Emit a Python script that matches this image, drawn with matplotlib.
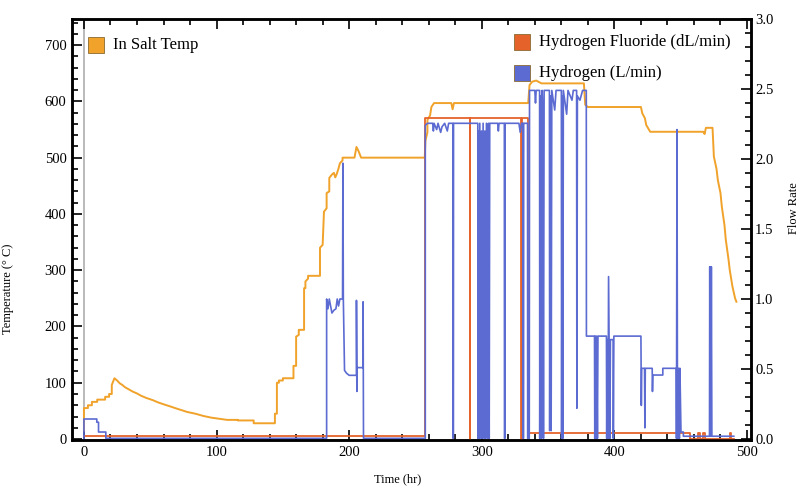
import numpy as np
import matplotlib.pyplot as plt
from matplotlib.patches import Rectangle

# In salt temperature (hr, deg C)
temp_pts = [
    (0, 15), (0, 55), (3, 55), (3, 60), (6, 60), (6, 66), (10, 66), (10, 70),
    (16, 70), (16, 75), (19, 75), (19, 80), (21, 80), (21, 96), (23, 108),
    (25, 104), (27, 99), (29, 96), (31, 92), (34, 88), (37, 84), (40, 81),
    (43, 77), (47, 73), (52, 69), (56, 65), (61, 61), (65, 58), (70, 54),
    (74, 51), (78, 48), (84, 45), (90, 41), (96, 38), (102, 36), (108, 34),
    (116, 34), (116, 33), (128, 33), (128, 28), (144, 28), (144, 45),
    (145.5, 45), (145.5, 100), (147, 100), (147, 104), (150, 104), (150, 108),
    (158, 108), (158, 130), (160, 130), (160, 182), (162, 185), (162, 194),
    (166, 194), (166, 268), (167, 268), (167, 280), (169, 285), (169, 290),
    (178, 290), (178, 340), (180, 345), (181, 404), (183, 410), (183, 437),
    (185, 440), (185, 464), (187, 470), (188.5, 473), (189.5, 465),
    (190.5, 470), (192, 481), (193, 490), (195, 495), (195, 500), (204, 500),
    (205.5, 519), (207, 512), (209, 500), (257, 500), (257.5, 530),
    (259, 545), (259, 567), (261, 575), (262, 590), (264, 597), (277, 597),
    (278, 586), (279, 597), (335, 597), (336, 629), (338, 635), (341, 637),
    (345, 632), (377, 632), (378, 594), (380, 590), (420, 590), (421, 579),
    (423, 570), (424, 558), (426, 550), (427, 546), (467, 546), (468, 542),
    (469, 553), (474, 553), (475, 502), (477, 480), (478, 460), (480, 437),
    (481, 413), (483, 380), (484, 354), (486, 320), (487, 300), (489, 271),
    (491, 250), (492, 244),
]

# Hydrogen fluoride flow (hr, dL/min)
hf_pts = [
    (0, 0.02), (257.4, 0.02), (257.4, 2.29), (290.8, 2.29), (290.8, 0.0),
    (291.2, 0.0), (291.2, 2.29), (329.8, 2.29), (329.8, 0.0), (330.2, 0.0),
    (330.2, 2.29), (335, 2.29), (335, 0.045), (457, 0.045), (457, 0.0),
    (463, 0.0), (463, 0.045), (464.5, 0.045), (464.5, 0.0), (467, 0.0),
    (467, 0.045), (468, 0.045), (468, 0.0), (487, 0.0), (487, 0.045),
    (488, 0.045), (488, 0.0), (490, 0.0),
]

# Hydrogen flow (hr, L/min)
h2_pts = [
    (0, 0.0), (0, 0.143), (9.7, 0.143), (9.7, 0.12), (11, 0.12), (11, 0.05),
    (16.5, 0.05), (16.5, 0.005), (183, 0.005), (183, 1.0), (184, 0.93),
    (185, 1.0), (186, 0.95), (187, 0.9), (188.5, 0.92), (190, 0.93),
    (191, 1.0), (192, 0.95), (193, 1.0), (195, 1.0), (195.3, 1.97),
    (195.6, 1.0), (196.5, 0.49), (198, 0.47), (200, 0.455), (205.5, 0.455),
    (205.5, 0.99), (205.8, 0.34), (206, 0.51), (210.5, 0.51), (210.5, 0.98),
    (210.8, 0.005), (257.4, 0.005), (257.4, 2.24), (259, 2.255),
    (263, 2.255), (263.5, 2.2), (264, 2.255), (266, 2.21), (267, 2.255),
    (269, 2.19), (270, 2.23), (272, 2.255), (274, 2.2), (275, 2.255),
    (278.2, 2.255), (278.3, 0.005), (278.6, 0.005), (278.7, 2.255),
    (297, 2.255), (297.1, 0.005), (297.5, 2.2), (298, 0.005), (298.5, 2.255),
    (299.3, 0.005), (299.8, 2.2), (300.5, 0.005), (301, 2.255),
    (301.8, 0.005), (302.3, 2.2), (303, 0.005), (303.5, 2.255),
    (304.5, 0.005), (305, 2.255), (305.6, 0.005), (306, 2.255), (312, 2.255),
    (312.5, 2.2), (313, 2.255), (317, 2.255), (317.1, 0.005), (317.5, 0.005),
    (317.6, 2.255), (328, 2.255), (329, 2.19), (330, 2.255), (331, 2.255),
    (331.1, 0.005), (331.5, 0.005), (331.6, 2.255), (334.5, 2.255),
    (334.6, 0.005), (335.8, 0.005), (336, 2.49), (340, 2.49), (340.5, 2.4),
    (341, 2.49), (343.6, 2.49), (343.7, 0.005), (344.2, 2.45), (345, 0.005),
    (345.5, 2.49), (346, 2.32), (346.5, 0.005), (347, 2.49), (351, 2.49),
    (351.2, 0.06), (351.7, 2.45), (352.3, 0.06), (352.8, 2.49), (355, 2.35),
    (356, 2.49), (360, 2.49), (360.2, 0.005), (360.6, 2.45), (361.1, 0.005),
    (361.5, 2.49), (364, 2.32), (365, 2.49), (368, 2.42), (369, 2.49),
    (371.5, 2.49), (371.7, 0.22), (372.1, 2.45), (374, 2.42), (376, 2.49),
    (378.8, 2.49), (378.9, 0.735), (385, 0.735), (385.2, 0.005),
    (385.6, 0.735), (386.2, 0.005), (386.6, 0.735), (387.2, 0.005),
    (387.6, 0.735), (394, 0.735), (394.2, 0.005), (394.6, 0.71),
    (395.2, 0.005), (395.6, 1.16), (396, 0.71), (396.6, 0.005), (397, 0.71),
    (399, 0.71), (399.2, 0.005), (399.6, 0.735), (420, 0.735), (420.3, 0.24),
    (420.6, 0.505), (422.7, 0.505), (423, 0.08), (423.3, 0.505),
    (428.5, 0.505), (428.7, 0.34), (429, 0.457), (436.5, 0.457),
    (436.5, 0.505), (446.6, 0.505), (446.8, 0.005), (447.2, 2.21),
    (447.5, 0.505), (448, 0.005), (448.4, 0.505), (449, 0.005),
    (449.4, 0.505), (450.2, 0.05), (452, 0.05), (452, 0.02), (471.7, 0.02),
    (471.9, 1.23), (472.2, 0.02), (472.5, 1.23), (472.8, 0.02),
    (473.1, 1.23), (473.5, 0.02), (490, 0.02),
]

c_temp = '#f0a22a'
c_hf = '#e5632b'
c_h2 = '#5c6bd2'

plt.rcParams['font.family'] = ['Liberation Serif', 'DejaVu Serif']

W, H = 801, 487
fig = plt.figure(figsize=(W / 100, H / 100), dpi=100)
L, R, T, B = 72, 751, 19, 440
ax = fig.add_axes([L / W, 1 - B / H, (R - L) / W, (B - T) / H])
ax2 = ax.twinx()

t, v = np.array(temp_pts).T
ax.plot(t, v, color=c_temp, lw=1.4)
ax.axvline(0, color='#b4b4b4', lw=1.3, zorder=0)

t, v = np.array(hf_pts).T
ax2.plot(t, v, color=c_hf, lw=1.3)
t, v = np.array(h2_pts).T
ax2.plot(t, v, color=c_h2, lw=1.2)

ax.set_xlim(-9, 503)
ax2.set_ylim(-0.007, 3.0)
ax.set_ylim(-0.007 * 248.8, 3.0 * 248.8)

ax.set_xticks(np.arange(0, 501, 100))
ax.set_xticks(np.arange(20, 501, 20), minor=True)
ax.set_yticks(np.arange(0, 701, 100))
ax.set_yticks(np.arange(0, 741, 20), minor=True)
ax2.set_yticks(np.arange(0, 3.01, 0.5))
ax2.set_yticks(np.arange(0, 3.01, 0.1), minor=True)
ax2.set_yticklabels([f'{x:.1f}' for x in np.arange(0, 3.01, 0.5)])

ax.tick_params(which='both', direction='in', top=True, right=False,
               labelsize=10.5, width=1.2, pad=4)
ax.tick_params(which='major', length=7)
ax.tick_params(which='minor', length=4)
ax2.tick_params(which='both', direction='in', labelsize=10.5, width=1.2, pad=3)
ax2.tick_params(which='major', length=7)
ax2.tick_params(which='minor', length=4)

for a in (ax, ax2):
    for s in a.spines.values():
        s.set_linewidth(1.8)

ax.set_xlabel('Time (hr)', fontsize=9)
ax.xaxis.set_label_coords(0.48, -0.078)
ax.set_ylabel('Temperature (° C)', fontsize=9)
ax.yaxis.set_label_coords(-0.085, 0.36)
ax2.set_ylabel('Flow Rate', fontsize=9, rotation=90)
ax2.yaxis.set_label_coords(1.055, 0.55)

# legend boxes drawn by hand
legend = [(88, 45, c_temp, 'In Salt Temp'),
          (514, 42, c_hf, 'Hydrogen Fluoride (dL/min)'),
          (514, 73, c_h2, 'Hydrogen (L/min)')]
for x0, y0, col, txt in legend:
    fig.patches.append(Rectangle((x0 / W, 1 - (y0 + 8) / H), 16 / W, 16 / H,
                                 transform=fig.transFigure, facecolor=col,
                                 edgecolor='#8a6a30', lw=0.6))
    fig.text((x0 + 25) / W, 1 - y0 / H, txt, fontsize=12, va='center')

fig.savefig('out.png', dpi=100)
